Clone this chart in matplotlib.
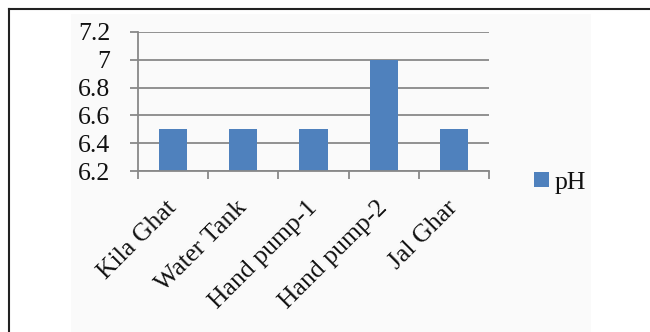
import matplotlib.pyplot as plt
from matplotlib.patches import Rectangle

sites = ["Kila Ghat", "Water Tank", "Hand pump-1", "Hand pump-2", "Jal Ghar"]
ph_values = [6.5, 6.5, 6.5, 7.0, 6.5]
y_ticks = [6.2, 6.4, 6.6, 6.8, 7.0, 7.2]
y_tick_labels = ["6.2", "6.4", "6.6", "6.8", "7", "7.2"]

BAR_COLOR = "#4F81BD"
GRID_COLOR = "#888888"
TEXT_COLOR = "#111111"

plt.rcParams["font.family"] = ["Liberation Serif", "DejaVu Serif"]

fig = plt.figure(figsize=(6.5, 3.32), dpi=100)

# faint panel behind the chart and the outer frame lines
fig.add_artist(Rectangle((71 / 650, 0), 520 / 650, 1 - 14 / 332,
                         transform=fig.transFigure, facecolor="#fafafa",
                         edgecolor="none", zorder=-5))
fig.add_artist(plt.Line2D([8.5 / 650, 8.5 / 650], [0, 1 - 9 / 332],
                          transform=fig.transFigure, color="#222222", lw=1.5))
fig.add_artist(plt.Line2D([8.5 / 650, 1], [1 - 9 / 332, 1 - 9 / 332],
                          transform=fig.transFigure, color="#222222", lw=1.5))

ax = fig.add_axes([138 / 650, 1 - 171 / 332, 351 / 650, 139 / 332])
ax.set_facecolor("none")

x = range(len(sites))
ax.bar(x, [v - 6.2 for v in ph_values], bottom=6.2, width=0.4,
       color=BAR_COLOR, label="pH", zorder=3)

ax.set_xlim(-0.5, len(sites) - 0.5)
ax.set_ylim(6.2, 7.2)
ax.set_yticks(y_ticks)
ax.set_yticklabels(y_tick_labels)
ax.yaxis.grid(True, color=GRID_COLOR, linewidth=1.3, zorder=1)

# category boundaries carry the tick marks, labels sit at the bar centres
ax.set_xticks([i - 0.5 for i in range(len(sites) + 1)], minor=False)
ax.set_xticklabels([])
ax.set_xticks(list(x), minor=True)
ax.set_xticklabels(sites, minor=True, rotation=45, ha="right", va="center",
                   rotation_mode="anchor", fontsize=18.5, color=TEXT_COLOR)
ax.tick_params(axis="x", which="minor", length=0, pad=24)
ax.tick_params(axis="x", which="major", length=6, width=1.3, color=GRID_COLOR)
ax.tick_params(axis="y", length=6, width=1.3, color=GRID_COLOR, pad=14,
               labelsize=18.5, labelcolor=TEXT_COLOR)

for side in ("top", "right"):
    ax.spines[side].set_visible(False)
for side in ("left", "bottom"):
    ax.spines[side].set_color(GRID_COLOR)
    ax.spines[side].set_linewidth(1.3)
    ax.spines[side].set_zorder(4)

leg = ax.legend(loc="center left", bbox_to_anchor=(1.1, -0.085), frameon=False,
                fontsize=18.5, handlelength=0.55, handleheight=0.55,
                handletextpad=0.25, borderaxespad=0)
for t in leg.get_texts():
    t.set_color(TEXT_COLOR)

fig.savefig("out.png", dpi=100)
